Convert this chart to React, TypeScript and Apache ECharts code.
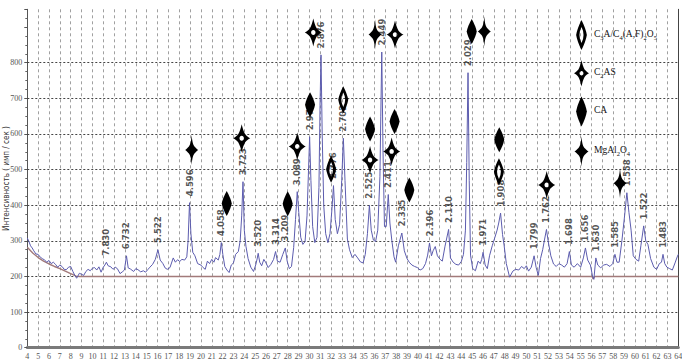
import { useEffect, useRef } from 'react';
import * as echarts from 'echarts';

// Diffraction profile between reflections: [2θ, counts]
const profile: number[][] = [
  [4.0, 308], [4.15, 298], [4.3, 286], [4.45, 280], [4.6, 272], [4.8, 263], [5.0, 262], [5.2, 254],
  [5.4, 250], [5.6, 246], [5.8, 240], [6.0, 245], [6.2, 236], [6.4, 240], [6.6, 234], [6.8, 226],
  [7.0, 232], [7.2, 228], [7.4, 220], [7.6, 219], [7.8, 226], [8.0, 228], [8.2, 214], [8.4, 202],
  [8.55, 195], [8.8, 209], [9.0, 206], [9.2, 203], [9.4, 214], [9.6, 220], [9.8, 216], [10.0, 223],
  [10.2, 225], [10.4, 218], [10.6, 227], [10.8, 212], [11.0, 226], [11.15, 232],
  [11.45, 230], [11.7, 227], [11.9, 220], [12.1, 226], [12.3, 222], [12.55, 208], [12.8, 214], [12.95, 218],
  [13.3, 224], [13.5, 221], [13.8, 214], [14.0, 222], [14.2, 219], [14.45, 213], [14.7, 216], [14.9, 212],
  [15.1, 219], [15.3, 226], [15.55, 234], [15.8, 248],
  [16.25, 246], [16.5, 236], [16.7, 224], [16.9, 220], [17.15, 225], [17.45, 252], [17.65, 240], [17.85, 247],
  [18.05, 242], [18.25, 248], [18.5, 246], [18.7, 255], [18.82, 300],
  [19.08, 320], [19.25, 268], [19.45, 258], [19.7, 236], [20.0, 232], [20.2, 225], [20.4, 220], [20.6, 243], [20.8, 236],
  [21.0, 248], [21.2, 240], [21.35, 253], [21.6, 246], [21.75, 262],
  [22.02, 262], [22.2, 228], [22.4, 218], [22.6, 211], [22.8, 232], [23.0, 238], [23.2, 262], [23.45, 270],
  [23.62, 300], [23.76, 370],
  [24.0, 330], [24.15, 285], [24.35, 250], [24.6, 226], [24.85, 214], [25.05, 232], [25.18, 249],
  [25.42, 240], [25.6, 230], [25.8, 248], [26.0, 238], [26.2, 225], [26.45, 234], [26.7, 248],
  [27.05, 243], [27.3, 240], [27.55, 262],
  [27.95, 243], [28.15, 222], [28.35, 228], [28.55, 281], [28.72, 360],
  [29.02, 380], [29.2, 310], [29.4, 290], [29.6, 298], [29.78, 370], [29.92, 500],
  [30.14, 470], [30.3, 340], [30.5, 295], [30.7, 310], [30.88, 450], [30.98, 680],
  [31.18, 600], [31.32, 400], [31.5, 320], [31.7, 295], [31.9, 320], [32.08, 390],
  [32.38, 360], [32.58, 320], [32.78, 345], [32.98, 470],
  [33.28, 470], [33.5, 305], [33.7, 275], [33.95, 253], [34.2, 262], [34.45, 252], [34.7, 241], [34.95, 238],
  [35.15, 262], [35.35, 320],
  [35.7, 330], [35.9, 302], [36.1, 298], [36.3, 330], [36.5, 480], [36.58, 650],
  [36.78, 560], [36.92, 340], [37.08, 340],
  [37.42, 350], [37.6, 300], [37.8, 255], [37.95, 240], [38.2, 286],
  [38.75, 272], [39.0, 250], [39.2, 240], [39.45, 232], [39.7, 228], [39.95, 225], [40.2, 218], [40.45, 222],
  [40.7, 236], [40.9, 260],
  [41.25, 258], [41.4, 272], [41.6, 284], [41.8, 258], [42.05, 248], [42.25, 243], [42.5, 285],
  [43.0, 252], [43.25, 240], [43.5, 234], [43.75, 232], [44.0, 242], [44.2, 262], [44.38, 330], [44.5, 520],
  [44.73, 470], [44.85, 260], [45.05, 222], [45.3, 216], [45.55, 243], [45.75, 236], [45.88, 248],
  [46.2, 232], [46.4, 222], [46.6, 258], [46.85, 286], [47.1, 310], [47.3, 330], [47.45, 350],
  [47.8, 318], [47.95, 286], [48.15, 236], [48.45, 198], [48.75, 215], [49.0, 220], [49.3, 218], [49.55, 228],
  [49.8, 222], [50.0, 230], [50.2, 215], [50.45, 226],
  [50.9, 225], [51.1, 203], [51.3, 250], [51.5, 275], [51.68, 305],
  [52.0, 300], [52.25, 258], [52.5, 235], [52.75, 228], [53.0, 236], [53.25, 232], [53.5, 226], [53.75, 236],
  [54.15, 232], [54.4, 226], [54.7, 236], [55.0, 226], [55.25, 252],
  [55.65, 246], [55.9, 232], [56.1, 200], [56.22, 192],
  [56.58, 232], [56.85, 224], [57.1, 232], [57.4, 234], [57.7, 228], [57.95, 236],
  [58.35, 240], [58.55, 240], [58.8, 300], [59.05, 370],
  [59.45, 380], [59.65, 330], [59.85, 258], [60.1, 248], [60.35, 243], [60.55, 286],
  [61.0, 300], [61.2, 290], [61.45, 250], [61.75, 226], [62.0, 220], [62.25, 236], [62.45, 240],
  [62.75, 236], [62.95, 226], [63.2, 222], [63.45, 218], [63.7, 238], [63.9, 255], [64.0, 262],
];

// Indexed reflections: position (2θ), peak counts and d-spacing (Å)
const peakTheta = [
  11.29, 13.14, 16.04, 18.95, 21.88, 23.88, 25.28, 26.88, 27.78, 28.88, 30.02, 31.07, 32.22, 33.13, 35.53, 36.67,
  37.27, 38.52, 41.07, 42.83, 44.62, 46.01, 47.62, 50.71, 51.85, 53.96, 55.44, 56.4, 58.16, 59.26, 60.81, 62.59,
];
const peakIntensity = [
  240, 258, 275, 407, 295, 466, 265, 270, 280, 438, 592, 822, 455, 588, 400, 830,
  430, 322, 294, 332, 772, 268, 378, 258, 332, 270, 280, 252, 262, 435, 342, 262,
];
const peakD = [
  '7.830', '6.732', '5.522', '4.596', '4.058', '3.723', '3.520', '3.314', '3.209', '3.089', '2.974', '2.876',
  '2.776', '2.702', '2.525', '2.449', '2.411', '2.335', '2.196', '2.110', '2.029', '1.971', '1.908', '1.799',
  '1.762', '1.698', '1.656', '1.630', '1.585', '1.558', '1.522', '1.483',
];

// Fitted background
const background: number[][] = [
  [4, 282], [4.5, 266], [5, 253], [5.5, 243], [6, 235], [6.5, 228], [7, 222], [7.5, 215], [8, 208],
  [8.5, 201], [8.8, 200], [56.05, 200], [56.15, 193], [56.3, 200], [64, 200],
];

// Phase markers placed above the reflections: [2θ, height on the counts scale]
const markC3A: number[][] = [[32.0, 501], [33.12, 696], [47.47, 494]];
const markC2AS: number[][] = [[23.76, 588], [28.88, 565], [30.36, 885], [35.59, 527], [37.89, 879], [37.58, 551], [51.87, 457]];
const markCA: number[][] = [[22.38, 405], [28.0, 404], [30.06, 682], [35.59, 614], [37.85, 635], [39.21, 443], [44.96, 888], [47.5, 584]];
const markSpinel: number[][] = [[19.15, 555], [36.05, 879], [46.12, 888], [58.63, 462]];

const phaseNames = ['C3A/C4(A,F)2O5', 'C2AS', 'CA', 'MgAl2O4'];
const phaseLabels: Record<string, string> = {
  'C3A/C4(A,F)2O5': '{t|C}{s|3}{t|A/C}{s|4}{t|(A,F)}{s|2}{t|O}{s|5}',
  C2AS: '{t|C}{s|2}{t|AS}',
  CA: '{t|CA}',
  MgAl2O4: '{t|MgAl}{s|2}{t|O}{s|4}',
};

const xMin = 4;
const xMax = 64;
const yTicks = [0, 100, 200, 300, 400, 500, 600, 700, 800];

// Marker outlines
const ICON_DIAMOND_OPEN =
  'path://M5,0 Q9,8 10,14 Q9,20 5,28 Q1,20 0,14 Q1,8 5,0 Z M5,6.5 Q3.1,10 3.1,14 Q3.1,18 5,21.5 Q6.9,18 6.9,14 Q6.9,10 5,6.5 Z';
const ICON_DIAMOND = 'path://M5,0 Q9,8 10,14 Q9,20 5,28 Q1,20 0,14 Q1,8 5,0 Z';
const ICON_STAR =
  'path://M7,0 C7.6,6 8,9 10,11.5 C11,12.6 12.5,14 14,15 C12.5,16 11,17.4 10,18.5 C8,21 7.6,24 7,30 C6.4,24 6,21 4,18.5 C3,17.4 1.5,16 0,15 C1.5,14 3,12.6 4,11.5 C6,9 6.4,6 7,0 Z';
const ICON_STAR_OPEN =
  'path://M8.5,0 C9.3,4 10.5,8 12,10.8 C13.5,12.5 15,14 17,15 C15,16 13.5,17.5 12,19.2 C10.5,22 9.3,26 8.5,30 C7.7,26 6.5,22 5,19.2 C3.5,17.5 2,16 0,15 C2,14 3.5,12.5 5,10.8 C6.5,8 7.7,4 8.5,0 Z M8.5,12.4 C7.2,12.4 6.3,13.6 6.3,15 C6.3,16.4 7.2,17.6 8.5,17.6 C9.8,17.6 10.7,16.4 10.7,15 C10.7,13.6 9.8,12.4 8.5,12.4 Z';

export default function App() {
  const ref = useRef<HTMLDivElement>(null);

  useEffect(() => {
    if (!ref.current) return;
    const chart = echarts.init(ref.current, undefined, { renderer: 'svg' });

    const peaks = peakTheta.map((t, i) => [t, peakIntensity[i]]);
    const pattern = [...profile, ...peaks].sort((a, b) => a[0] - b[0]);

    const markerSeries = (name: string, data: number[][], symbol: string, size: number[]) => ({
      name,
      type: 'scatter',
      data,
      symbol,
      symbolSize: size,
      itemStyle: { color: '#000', opacity: 1 },
      z: 5,
      silent: true,
    });

    chart.setOption({
      animation: false,
      backgroundColor: '#fff',
      grid: {
        left: 27.3,
        right: 3.7,
        top: 9.3,
        bottom: 15.3,
        containLabel: false,
        outerBoundsMode: 'none',
      },
      legend: {
        orient: 'vertical',
        left: 569,
        top: 15,
        itemWidth: 15,
        itemHeight: 30,
        itemGap: 10,
        selectedMode: false,
        data: phaseNames,
        formatter: (name: string) => phaseLabels[name],
        textStyle: {
          fontFamily: 'Liberation Serif',
          color: '#111',
          rich: {
            t: { fontFamily: 'Liberation Serif', fontSize: 9.5, color: '#111', verticalAlign: 'top', lineHeight: 12 },
            s: { fontFamily: 'Liberation Serif', fontSize: 6.5, color: '#111', verticalAlign: 'bottom', lineHeight: 12 },
          },
        },
      },
      xAxis: {
        type: 'value',
        min: xMin,
        max: xMax,
        interval: 1,
        axisLine: { show: true, onZero: true, lineStyle: { color: '#7a7a7a', width: 3 } },
        axisTick: { show: false },
        axisLabel: {
          margin: 5,
          fontFamily: 'Liberation Sans Narrow',
          fontSize: 8,
          color: '#555',
        },
        splitLine: { show: true, lineStyle: { type: [3, 3], color: '#a0a0a0', width: 1 } },
      },
      yAxis: [
        {
          type: 'value',
          min: 0,
          max: 950,
          interval: 100,
          name: 'Интенсивность ( имп / сек )',
          nameLocation: 'middle',
          nameGap: 17,
          nameRotate: 90,
          nameMoveOverlap: false,
          nameTextStyle: { fontFamily: 'DejaVu Sans Condensed', fontSize: 8, color: '#333' },
          axisLine: { show: true, lineStyle: { color: '#555', width: 1 } },
          axisTick: { show: true, length: 3, lineStyle: { color: '#555' } },
          minorTick: { show: true, splitNumber: 4, length: 2, lineStyle: { color: '#666' } },
          axisLabel: {
            margin: 5,
            fontFamily: 'Liberation Sans Narrow',
            fontSize: 8,
            color: '#555',
            formatter: (v: number) => (yTicks.includes(v) ? String(v) : ''),
          },
          splitLine: { show: false },
        },
        {
          type: 'value',
          min: 0,
          max: 950,
          position: 'right',
          axisLine: { show: true, lineStyle: { color: '#444', width: 1 } },
          axisTick: { show: false },
          axisLabel: { show: false },
          splitLine: { show: false },
        },
      ],
      series: [
        {
          name: 'background',
          type: 'line',
          data: background,
          symbol: 'none',
          lineStyle: { color: '#a27a7a', width: 1.4 },
          z: 2,
          silent: true,
          markLine: {
            silent: true,
            symbol: ['none', 'none'],
            label: { show: false },
            lineStyle: { type: [2, 2], color: '#444', width: 1 },
            data: yTicks.filter((v) => v > 0).map((v) => ({ yAxis: v })),
            z: 1,
          },
        },
        {
          name: 'pattern',
          type: 'line',
          data: pattern,
          symbol: 'none',
          lineStyle: { color: '#5c5cae', width: 1 },
          z: 3,
          silent: true,
        },
        {
          name: 'd-spacing',
          type: 'scatter',
          data: peaks,
          symbolSize: 1,
          itemStyle: { color: 'rgba(0,0,0,0)' },
          z: 4,
          silent: true,
          label: {
            show: true,
            position: 'top',
            distance: 2,
            offset: [4, 0],
            rotate: 90,
            align: 'left',
            verticalAlign: 'middle',
            fontFamily: 'DejaVu Sans',
            fontWeight: 'bold',
            fontSize: 8.5,
            color: '#2a2a2a',
            formatter: (p: any) => peakD[p.dataIndex],
          },
        },
        markerSeries(phaseNames[0], markC3A, ICON_DIAMOND_OPEN, [10, 27]),
        markerSeries(phaseNames[1], markC2AS, ICON_STAR_OPEN, [17, 28]),
        markerSeries(phaseNames[2], markCA, ICON_DIAMOND, [10, 25]),
        markerSeries(phaseNames[3], markSpinel, ICON_STAR, [13, 30]),
      ],
    });

    return () => chart.dispose();
  }, []);

  return (
    <div
      ref={ref}
      style={{ position: 'fixed', left: 0, top: 0, width: 682, height: 363, background: '#fff' }}
    />
  );
}
